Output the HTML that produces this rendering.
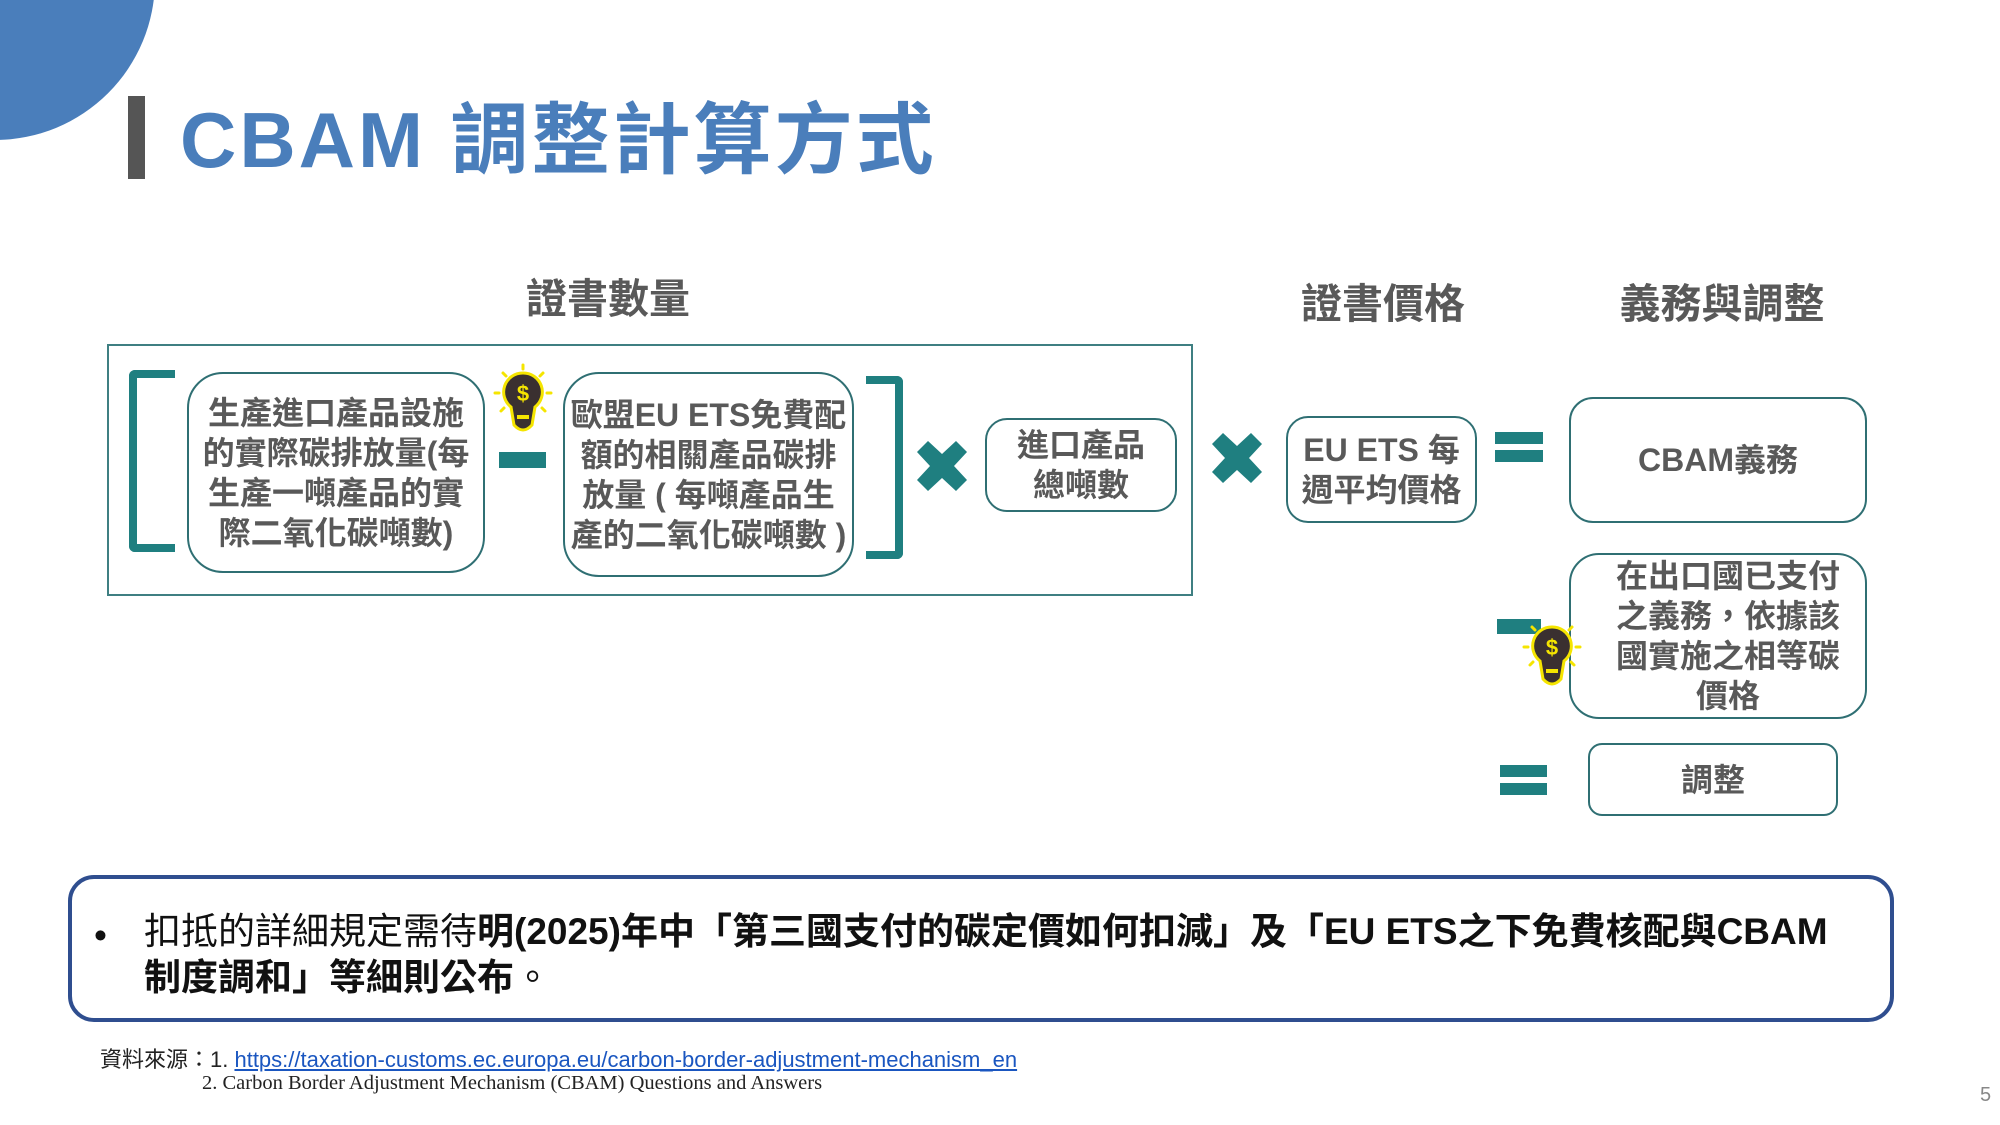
<!DOCTYPE html>
<html><head><meta charset="utf-8">
<style>
html,body{margin:0;padding:0}
body{width:2000px;height:1125px;position:relative;background:#fff;overflow:hidden;font-family:"Liberation Sans","Noto Sans CJK TC",sans-serif}
.a{position:absolute}
.box{position:absolute;box-sizing:border-box;border:2px solid #2f6f73;border-radius:36px;display:flex;align-items:center;justify-content:center;text-align:center;color:#595959;font-weight:bold;font-size:32px;line-height:40px}
.hd{position:absolute;color:#595959;font-weight:bold;font-size:41px;transform:translateX(-50%);white-space:nowrap}
.bar{position:absolute;background:#1f7f80}
</style></head><body>
<svg class="a" style="left:0;top:0" width="200" height="200"><circle cx="-5" cy="-20" r="160" fill="#4a7ebb"/></svg>
<div class="a" style="left:128px;top:96px;width:17px;height:83px;background:#555"></div>
<div class="a" style="left:180px;top:92px;font-size:78px;line-height:96px;color:#4a7ebb;font-weight:bold;letter-spacing:3px;white-space:nowrap">CBAM 調整計算方式</div>

<div class="hd" style="left:608px;top:265px">證書數量</div>
<div class="hd" style="left:1383px;top:270px">證書價格</div>
<div class="hd" style="left:1722px;top:270px">義務與調整</div>

<div class="a" style="left:107px;top:344px;width:1086px;height:252px;box-sizing:border-box;border:2px solid #3f7f82"></div>
<div class="a" style="left:129px;top:370px;width:46px;height:182px;box-sizing:border-box;border:8px solid #1f7f80;border-right:none;border-radius:6px 0 0 6px"></div>
<div class="a" style="left:866px;top:376px;width:37px;height:183px;box-sizing:border-box;border:8px solid #1f7f80;border-left:none;border-radius:0 6px 6px 0"></div>

<div class="box" style="left:187px;top:372px;width:298px;height:201px">生產進口產品設施<br>的實際碳排放量(每<br>生產一噸產品的實<br>際二氧化碳噸數)</div>
<div class="box" style="left:563px;top:372px;width:291px;height:205px">歐盟EU ETS免費配<br>額的相關產品碳排<br>放量 ( 每噸產品生<br>產的二氧化碳噸數 )</div>
<div class="bar" style="left:499px;top:452px;width:47px;height:16px"></div>

<svg class="a" style="left:915px;top:439px" width="54" height="54" viewBox="0 0 54 54"><path d="M13 2 L27 15 L41 2 L52 13 L39 27 L52 41 L41 52 L27 39 L13 52 L2 41 L15 27 L2 13 Z" fill="#1f7f80"/></svg>
<div class="box" style="left:985px;top:418px;width:192px;height:94px;border-radius:22px">進口產品<br>總噸數</div>
<svg class="a" style="left:1210px;top:431px" width="54" height="54" viewBox="0 0 54 54"><path d="M13 2 L27 15 L41 2 L52 13 L39 27 L52 41 L41 52 L27 39 L13 52 L2 41 L15 27 L2 13 Z" fill="#1f7f80"/></svg>
<div class="box" style="left:1286px;top:416px;width:191px;height:107px;border-radius:22px">EU ETS 每<br>週平均價格</div>

<div class="bar" style="left:1495px;top:432px;width:48px;height:12px"></div>
<div class="bar" style="left:1495px;top:450px;width:48px;height:12px"></div>
<div class="box" style="left:1569px;top:397px;width:298px;height:126px;border-radius:24px">CBAM義務</div>

<div class="bar" style="left:1497px;top:619px;width:44px;height:15px"></div>
<div class="box" style="left:1569px;top:553px;width:298px;height:166px;border-radius:30px;padding-left:20px">在出口國已支付<br>之義務，依據該<br>國實施之相等碳<br>價格</div>

<div class="bar" style="left:1500px;top:765px;width:47px;height:12px"></div>
<div class="bar" style="left:1500px;top:783px;width:47px;height:12px"></div>
<div class="box" style="left:1588px;top:743px;width:250px;height:73px;border-radius:14px">調整</div>

<svg class="a" style="left:493px;top:363px" width="60" height="80" viewBox="0 0 60 80">
<g stroke="#f5e500" stroke-width="3" stroke-linecap="round"><line x1="30" y1="2" x2="30" y2="6"/><line x1="10" y1="10" x2="13" y2="13"/><line x1="50" y1="10" x2="47" y2="13"/><line x1="2" y1="30" x2="6" y2="30"/><line x1="58" y1="30" x2="54" y2="30"/><line x1="8" y1="48" x2="11" y2="45"/><line x1="52" y1="48" x2="49" y2="45"/></g>
<path d="M30 10 A19 19 0 0 1 42 44 L39 62 Q30 72 21 62 L18 44 A19 19 0 0 1 30 10Z" fill="#3a3030" stroke="#f5e500" stroke-width="3"/>
<text x="30" y="38" font-size="22" font-weight="bold" fill="#f5e500" text-anchor="middle" font-family="Liberation Sans,sans-serif">$</text>
<rect x="24" y="52" width="12" height="4" fill="#f5e500"/></svg>

<svg class="a" style="left:1522px;top:617px" width="60" height="80" viewBox="0 0 60 80">
<g stroke="#f5e500" stroke-width="3" stroke-linecap="round"><line x1="10" y1="10" x2="13" y2="13"/><line x1="50" y1="10" x2="47" y2="13"/><line x1="2" y1="30" x2="6" y2="30"/><line x1="58" y1="30" x2="54" y2="30"/><line x1="8" y1="48" x2="11" y2="45"/><line x1="52" y1="48" x2="49" y2="45"/></g>
<path d="M30 10 A19 19 0 0 1 42 44 L39 62 Q30 72 21 62 L18 44 A19 19 0 0 1 30 10Z" fill="#3a3030" stroke="#f5e500" stroke-width="3"/>
<text x="30" y="38" font-size="22" font-weight="bold" fill="#f5e500" text-anchor="middle" font-family="Liberation Sans,sans-serif">$</text>
<rect x="24" y="52" width="12" height="4" fill="#f5e500"/></svg>

<div class="a" style="left:68px;top:875px;width:1826px;height:147px;box-sizing:border-box;border:4px solid #2f4e8f;border-radius:26px"></div>
<div class="a" style="left:94px;top:913px;font-size:37px;line-height:46px;color:#111">•</div>
<div class="a" style="left:144px;top:909px;width:1700px;font-size:37px;line-height:46px;color:#111"><span>扣抵的詳細規定需待</span><b>明(2025)年中「第三國支付的碳定價如何扣減」及「EU ETS之下免費核配與CBAM</b><br><b>制度調和」等細則公布</b>。</div>

<div class="a" style="left:100px;top:1042px;font-size:22px;color:#222;white-space:nowrap">資料來源：1. <span style="color:#1a56c0;text-decoration:underline">https://taxation-customs.ec.europa.eu/carbon-border-adjustment-mechanism_en</span></div>
<div class="a" style="left:202px;top:1072px;font-size:20.5px;color:#222;font-family:'Liberation Serif',serif;white-space:nowrap">2. Carbon Border Adjustment Mechanism (CBAM) Questions and Answers</div>
<div class="a" style="left:1980px;top:1084px;font-size:20px;color:#888">5</div>
</body></html>
